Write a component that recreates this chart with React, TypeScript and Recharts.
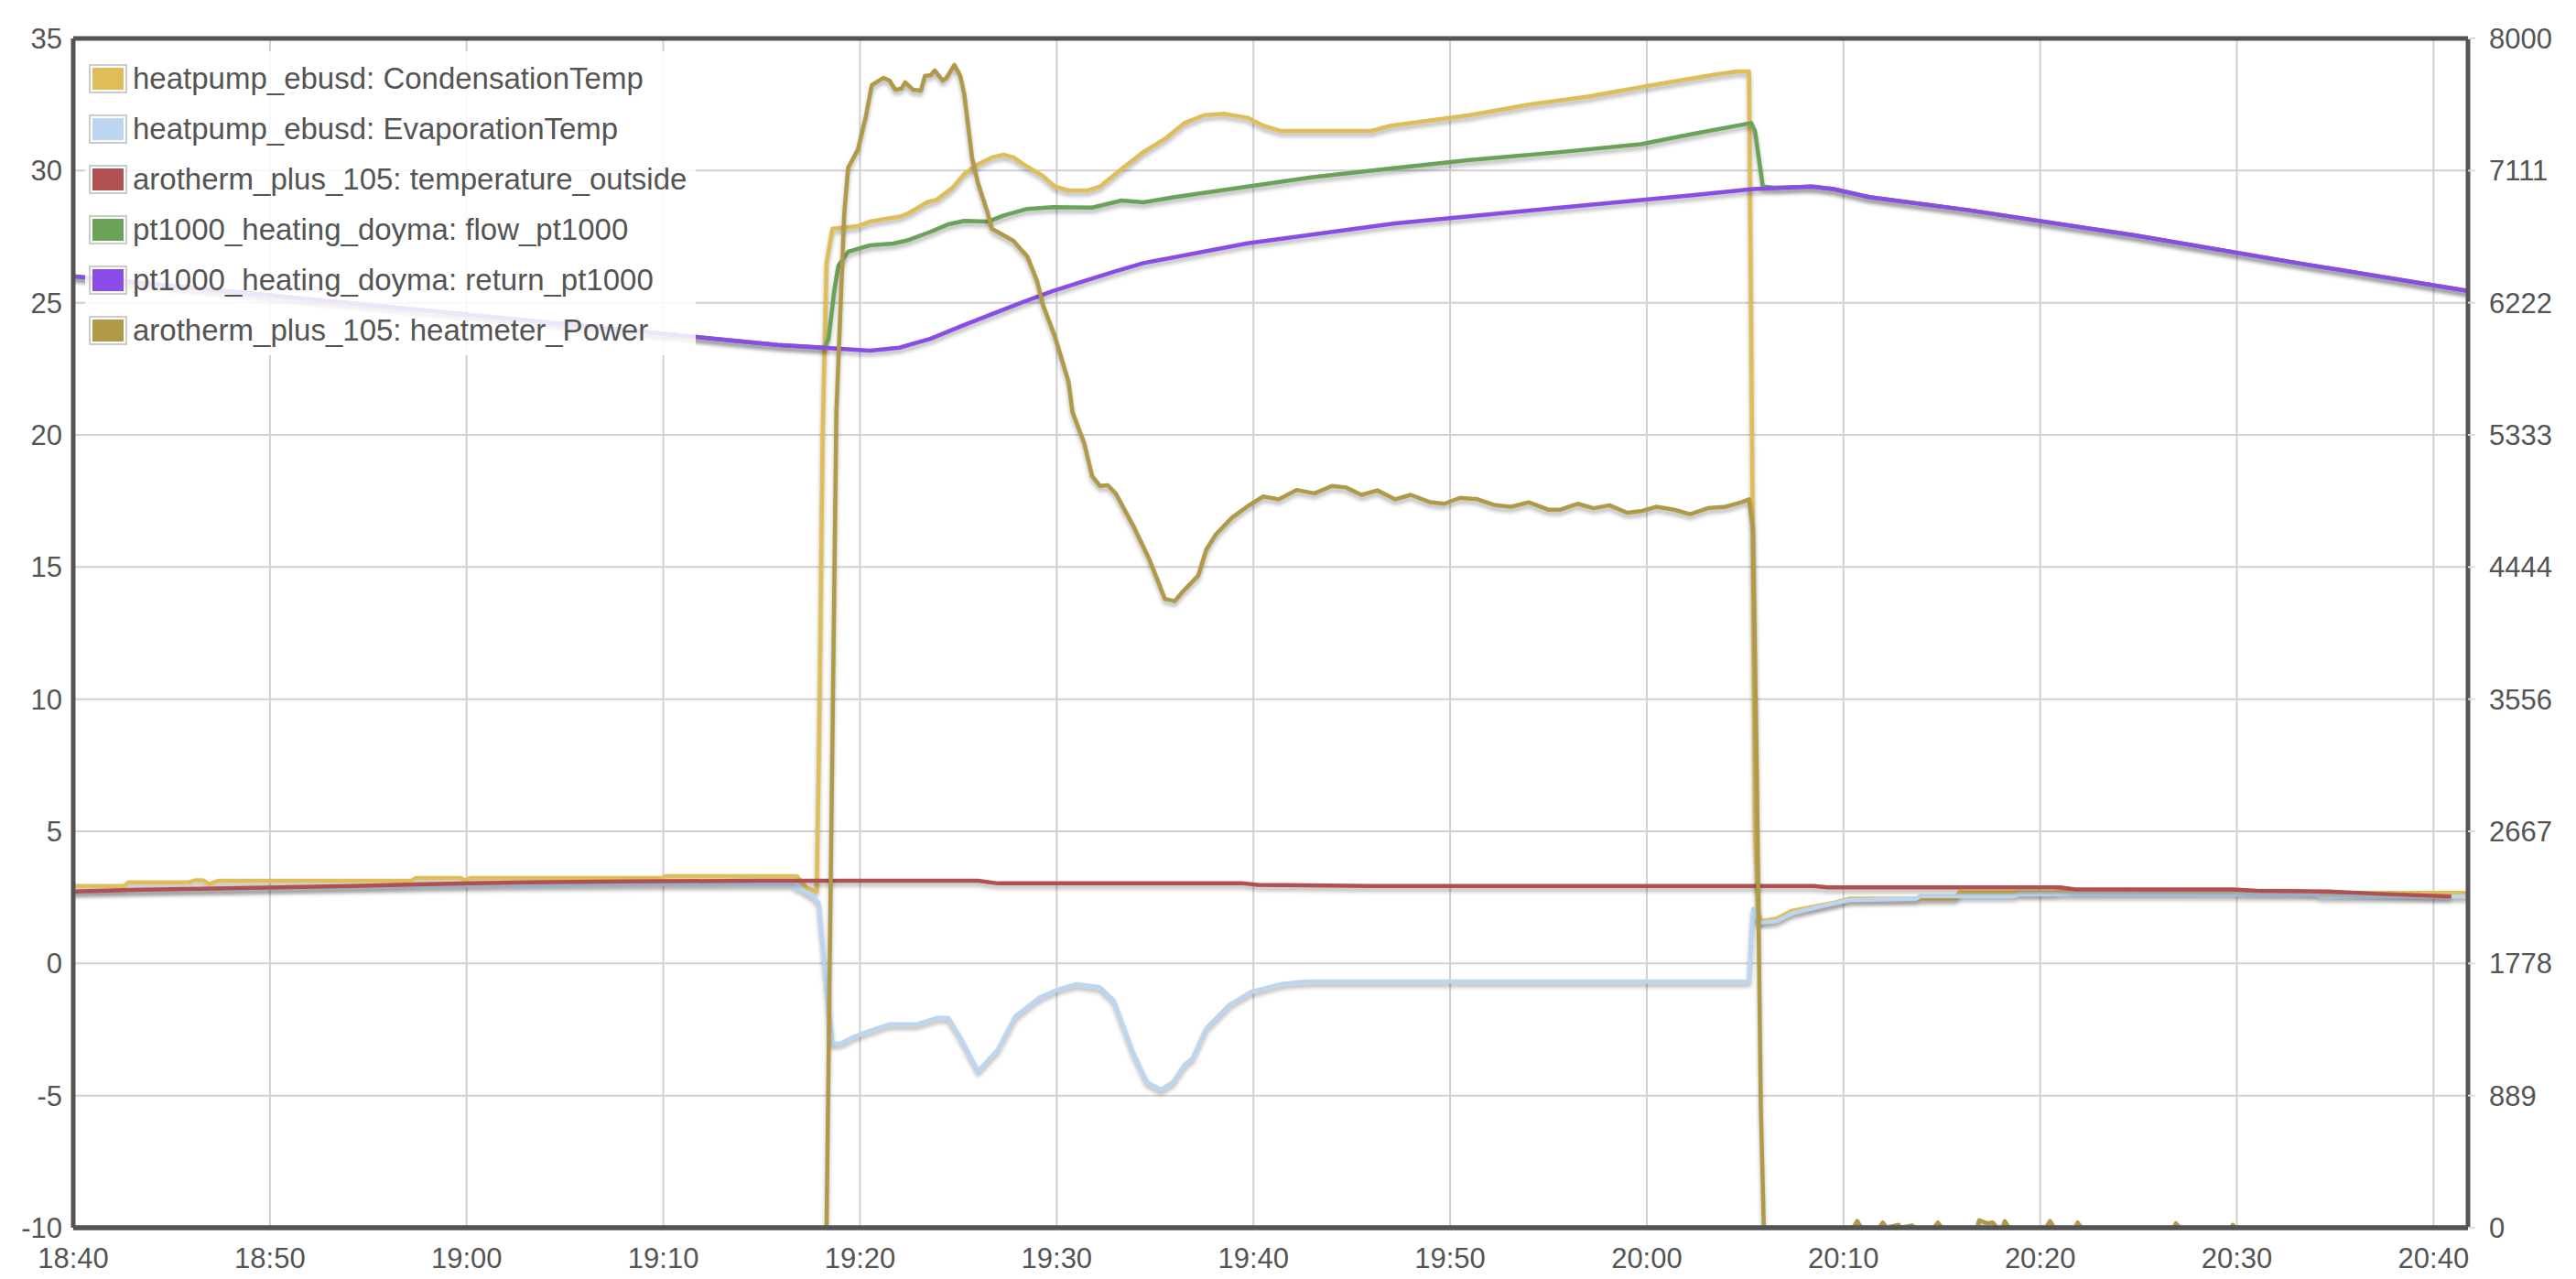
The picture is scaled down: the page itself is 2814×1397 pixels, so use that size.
import React from 'react';
import { LineChart, Line, XAxis, YAxis, CartesianGrid, Legend, ReferenceLine } from 'recharts';

// minutes after 18:40, value
const condensationTemp: [number, number][] = [
  [0, 2.93], [2.6, 2.93], [2.8, 3.07], [5.9, 3.07], [6.2, 3.15], [6.6, 3.15], [6.9, 3.0], [7.4, 3.13],
  [17.2, 3.13], [17.4, 3.23], [19.7, 3.23], [19.9, 3.15], [20.2, 3.23], [29.9, 3.23], [30.1, 3.3],
  [36.8, 3.3], [37.3, 2.85], [37.8, 2.73], [37.95, 10], [38.1, 20], [38.3, 26.5], [38.6, 27.8],
  [39.9, 27.9], [40.5, 28.07], [41.5, 28.2], [42.0, 28.25], [42.5, 28.4], [43.4, 28.8], [43.9, 28.9],
  [44.7, 29.35], [45.3, 29.87], [45.9, 30.2], [46.7, 30.5], [47.3, 30.6], [47.8, 30.5], [48.5, 30.15],
  [49.3, 29.8], [49.9, 29.4], [50.6, 29.25], [51.6, 29.25], [52.2, 29.4], [53.2, 30.0], [54.4, 30.7],
  [55.5, 31.2], [56.5, 31.8], [57.5, 32.1], [58.5, 32.15], [59.7, 32.0], [60.5, 31.7], [61.4, 31.5],
  [66, 31.5], [67, 31.7], [69, 31.9], [71, 32.1], [74, 32.5], [77, 32.8], [80, 33.2], [82.4, 33.5],
  [83.6, 33.65], [84.6, 33.75], [85.2, 33.75], [85.35, 20], [85.5, 5], [85.65, 2.0], [85.8, 1.6],
  [86.6, 1.7], [87.4, 2.0], [88.5, 2.15], [89.5, 2.3], [90.3, 2.45], [95.7, 2.45], [95.9, 2.7],
  [100.8, 2.7], [101, 2.75], [113, 2.75], [114.5, 2.67], [121.75, 2.67],
];

const evaporationTemp: [number, number][] = [
  [0, 2.75], [10, 2.85], [20, 2.95], [30, 3.0], [36.5, 3.0], [37.0, 2.8], [37.6, 2.55], [37.9, 2.3],
  [38.3, -1.0], [38.6, -3.03], [39.0, -3.03], [39.6, -2.8], [40.3, -2.6], [41.5, -2.3], [42.9, -2.3],
  [43.9, -2.06], [44.5, -2.06], [45.1, -2.8], [46.0, -4.07], [47.0, -3.27], [47.9, -2.0], [49.1, -1.3],
  [50.0, -1.0], [51.0, -0.78], [52.2, -0.9], [52.9, -1.4], [53.9, -3.4], [54.6, -4.5], [55.3, -4.77],
  [55.9, -4.5], [56.5, -3.83], [56.9, -3.6], [57.6, -2.45], [58.8, -1.55], [59.9, -1.07], [61.4, -0.78],
  [62.7, -0.68], [85.2, -0.68], [85.4, 2.06], [85.7, 1.54], [86.6, 1.6], [87.4, 1.9], [88.5, 2.1],
  [89.5, 2.27], [90.3, 2.4], [93.7, 2.45], [93.9, 2.55], [98.7, 2.55], [98.9, 2.62], [114, 2.6],
  [114.3, 2.53], [121.75, 2.53],
];

const temperatureOutside: [number, number][] = [
  [0, 2.72], [3, 2.78], [9.2, 2.86], [14.2, 2.93], [18, 3.0], [23, 3.07], [28, 3.1], [34.8, 3.13],
  [46, 3.13], [47, 3.03], [59.5, 3.03], [60.2, 2.97], [66, 2.93], [88.5, 2.93], [89.2, 2.88],
  [101, 2.88], [101.8, 2.8], [109.8, 2.8], [111, 2.75], [114.7, 2.72], [117, 2.64], [120.9, 2.53],
];

const returnPt1000: [number, number][] = [
  [0, 26.0], [10, 25.28], [20, 24.56], [30, 23.83], [35.8, 23.4], [38.1, 23.3], [40.5, 23.19],
  [42, 23.3], [43.6, 23.64], [45.1, 24.1], [46.7, 24.57], [48.2, 25.0], [49.8, 25.44], [51.3, 25.8],
  [52.9, 26.17], [54.4, 26.5], [59.7, 27.25], [67.2, 28.0], [75.6, 28.6], [82.3, 29.07], [85.4, 29.3],
  [88.4, 29.4], [89.5, 29.3], [91.3, 29.0], [96.4, 28.5], [104.8, 27.55], [113.1, 26.5], [121.75, 25.45],
];

const flowPt1000: [number, number][] = [
  [0, 26.0], [10, 25.28], [20, 24.56], [30, 23.83], [35.8, 23.4], [38.2, 23.3], [38.4, 23.64],
  [38.7, 25.5], [38.9, 26.4], [39.4, 26.93], [40.5, 27.17], [41.7, 27.24], [42.5, 27.38], [43.6, 27.69],
  [44.5, 27.97], [45.3, 28.1], [46.5, 28.07], [47.3, 28.3], [48.5, 28.55], [49.8, 28.62], [51.8, 28.6],
  [53.3, 28.87], [54.4, 28.8], [56, 29.0], [59.7, 29.4], [63, 29.75], [67.2, 30.1], [71, 30.4],
  [75.6, 30.7], [79.7, 31.0], [82.4, 31.4], [85.3, 31.8], [85.5, 31.5], [85.9, 29.4], [86.5, 29.35],
  [88.4, 29.4], [89.5, 29.3], [91.3, 29.0], [96.4, 28.5], [104.8, 27.55], [113.1, 26.5], [121.75, 25.45],
];

const heatmeterPower: [number, number][] = [
  [0, 0], [38.3, 0], [38.8, 5488], [39.2, 6824], [39.4, 7132], [39.9, 7255], [40.3, 7477], [40.6, 7686],
  [40.9, 7711], [41.2, 7735], [41.5, 7717], [41.8, 7655], [42.1, 7662], [42.3, 7705], [42.7, 7655],
  [43.1, 7649], [43.3, 7748], [43.6, 7754], [43.8, 7785], [44.2, 7717], [44.4, 7735], [44.8, 7822],
  [45.1, 7748], [45.3, 7625], [45.7, 7194], [46.0, 7027], [46.5, 6824], [46.7, 6720], [47.3, 6676],
  [47.8, 6639], [48.2, 6578], [48.5, 6535], [49.0, 6369], [49.3, 6208], [49.9, 5999], [50.6, 5691],
  [50.8, 5488], [51.4, 5278], [51.8, 5057], [52.2, 4990], [52.6, 4995], [53.0, 4940], [53.9, 4720],
  [54.7, 4499], [55.1, 4366], [55.5, 4230], [56.0, 4215], [56.4, 4278], [57.2, 4388], [57.6, 4560],
  [58.1, 4665], [58.9, 4775], [59.7, 4853], [60.5, 4919], [61.3, 4900], [62.2, 4963], [63.1, 4940],
  [64.0, 4990], [64.7, 4980], [65.5, 4930], [66.3, 4960], [67.2, 4900], [68, 4930], [69, 4880],
  [69.7, 4870], [70.5, 4910], [71.4, 4900], [72.3, 4860], [73.1, 4850], [74, 4880], [75, 4830],
  [75.6, 4830], [76.5, 4870], [77.3, 4840], [78.1, 4860], [79, 4810], [79.7, 4820], [80.5, 4850],
  [81.4, 4830], [82.2, 4800], [83.1, 4840], [84, 4850], [84.8, 4880], [85.2, 4900], [85.4, 4700],
  [85.6, 3000], [85.8, 800], [85.95, 0], [90.5, 0], [90.7, 45], [90.9, 0], [91.8, 0], [92.0, 35],
  [92.2, 0], [92.8, 20], [92.9, 0], [93.5, 15], [93.6, 0], [94.6, 0], [94.8, 35], [95.0, 0], [96.8, 0],
  [96.9, 50], [97.3, 30], [97.6, 35], [97.8, 0], [98.1, 0], [98.2, 45], [98.4, 0], [100.3, 0],
  [100.5, 45], [100.7, 0], [101.8, 0], [101.9, 35], [102.1, 0], [106.8, 0], [106.9, 30], [107.1, 0],
  [109.7, 0], [109.8, 20], [109.9, 0], [121.75, 0],
];

const timeTicks = [0, 10, 20, 30, 40, 50, 60, 70, 80, 90, 100, 110, 120];
const tempTicks = [-10, -5, 0, 5, 10, 15, 20, 25, 30, 35];
const powerTicks = [0, 888.89, 1777.78, 2666.67, 3555.56, 4444.44, 5333.33, 6222.22, 7111.11, 8000];

const series = [
  { name: 'heatpump_ebusd: CondensationTemp', color: '#dfbe5a', points: condensationTemp, axis: 'left' },
  { name: 'heatpump_ebusd: EvaporationTemp', color: '#bcd6f2', points: evaporationTemp, axis: 'left' },
  { name: 'arotherm_plus_105: temperature_outside', color: '#b05050', points: temperatureOutside, axis: 'left' },
  { name: 'pt1000_heating_doyma: flow_pt1000', color: '#6aa357', points: flowPt1000, axis: 'left' },
  { name: 'pt1000_heating_doyma: return_pt1000', color: '#8a4ce6', points: returnPt1000, axis: 'left' },
  { name: 'arotherm_plus_105: heatmeter_Power', color: '#b09a48', points: heatmeterPower, axis: 'right' },
];

const FONT = '"Liberation Sans", Arial, sans-serif';
const TEXT = '#545454';
const BORDER = '#545454';

const fmtTime = (m: number) => {
  const total = 18 * 60 + 40 + Math.round(m);
  const h = Math.floor(total / 60);
  const mm = total % 60;
  return `${h}:${mm < 10 ? '0' + mm : mm}`;
};

const renderLegend = () => (
  <div style={{ background: 'rgba(255,255,255,0.85)', padding: '2px 10px 0 4px', fontFamily: FONT }}>
    {series.map(s => (
      <div key={s.name} style={{ height: 55, display: 'flex', alignItems: 'center' }}>
        <div style={{ border: '2px solid #ccc', padding: 2, marginRight: 6 }}>
          <div style={{ width: 34, height: 24, background: s.color }} />
        </div>
        <span style={{ fontSize: 33, color: TEXT, whiteSpace: 'nowrap' }}>{s.name}</span>
      </div>
    ))}
  </div>
);

export default function App() {
  return (
    <div style={{ position: 'absolute', left: 0, top: 0, background: '#fff' }}>
      <style>{`.recharts-line-curve { filter: drop-shadow(0px 4px 2px rgba(0,0,0,0.28)); }`}</style>
      <LineChart width={2814} height={1397} margin={{ top: 42, right: 0, bottom: 0, left: 0 }}>
        <CartesianGrid yAxisId="left" stroke="#d0d0d6" strokeWidth={2} />
        <XAxis
          dataKey="t"
          type="number"
          domain={[0, 121.75]}
          ticks={timeTicks}
          tickFormatter={fmtTime}
          allowDataOverflow
          height={56}
          axisLine={{ stroke: BORDER, strokeWidth: 5 }}
          tickLine={false}
          tickSize={0}
          tickMargin={22}
          tick={{ fill: TEXT, fontSize: 31, fontFamily: FONT }}
        />
        <YAxis
          yAxisId="left"
          domain={[-10, 35]}
          ticks={tempTicks}
          allowDataOverflow
          width={80}
          axisLine={{ stroke: BORDER, strokeWidth: 5 }}
          tickLine={false}
          tickSize={0}
          tickMargin={12}
          tick={{ fill: TEXT, fontSize: 31, fontFamily: FONT }}
        />
        <YAxis
          yAxisId="right"
          orientation="right"
          domain={[0, 8000]}
          ticks={powerTicks}
          tickFormatter={(v: number) => String(Math.round(v))}
          allowDataOverflow
          width={118}
          axisLine={{ stroke: BORDER, strokeWidth: 5 }}
          tickLine={{ stroke: '#dddddd', strokeWidth: 2 }}
          tickSize={8}
          tickMargin={15}
          tick={{ fill: TEXT, fontSize: 31, fontFamily: FONT }}
        />
        {series.map(s => (
          <Line
            key={s.name}
            yAxisId={s.axis}
            data={s.points.map(([t, v]) => ({ t, v }))}
            dataKey="v"
            name={s.name}
            type="linear"
            stroke={s.color}
            strokeWidth={4.5}
            strokeLinejoin="round"
            dot={false}
            activeDot={false}
            isAnimationActive={false}
          />
        ))}
        <ReferenceLine yAxisId="left" y={35} stroke={BORDER} strokeWidth={5} />
        <ReferenceLine yAxisId="left" y={-10} stroke={BORDER} strokeWidth={5} />
        <Legend
          layout="vertical"
          align="center"
          verticalAlign="middle"
          content={renderLegend}
          wrapperStyle={{ left: 93, top: 56, width: 'auto' }}
        />
      </LineChart>
    </div>
  );
}
